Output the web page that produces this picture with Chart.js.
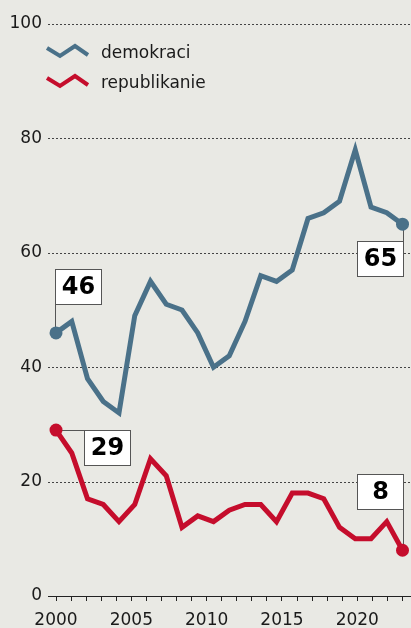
<!DOCTYPE html>
<html lang="pl">
<head>
<meta charset="utf-8">
<title>demokraci i republikanie</title>
<script src="https://cdn.jsdelivr.net/npm/chart.js@4.4.1/dist/chart.umd.min.js"></script>
<style>
  html, body { margin: 0; padding: 0; background: #e9e9e4; }
  #wykres { display: block; }
</style>
</head>
<body>
<canvas id="wykres" width="411" height="628"></canvas>
<script>
// kolejne pomiary, rozłożone równo na osi 2000-2023
const pomiary = ['1', '2', '3', '4', '5', '6', '7', '8', '9', '10', '11', '12',
                 '13', '14', '15', '16', '17', '18', '19', '20', '21', '22', '23'];
const demokraci = [46, 48, 38, 34, 32, 49, 55, 51, 50, 46, 40, 42, 48, 56, 55, 57, 66, 67, 69, 78, 68, 67, 65];
const republikanie = [29, 25, 17, 16, 13, 16, 24, 21, 12, 14, 13, 15, 16, 16, 13, 18, 18, 17, 12, 10, 10, 13, 8];

// oś lat i oś procentów
const rokOd = 2000;
const rokDo = 2023;
const podpisaneLata = [2000, 2005, 2010, 2015, 2020];
const skalaY = [0, 20, 40, 60, 80, 100];

const NIEBIESKI = '#4a7189';
const CZERWONY = '#c50d2c';
const FONT = '"DejaVu Sans", sans-serif';

// ramki z wartościami: która seria, pierwszy/ostatni punkt, przesunięcie ramki, kierunek linii
const ramki = [
    { seria: 0, punkt: 'pierwszy', dx: -1, dy: -64, linia: 'pion' },
    { seria: 0, punkt: 'ostatni', dx: -46, dy: 17, linia: 'pion' },
    { seria: 1, punkt: 'pierwszy', dx: 28, dy: 0, linia: 'poziom' },
    { seria: 1, punkt: 'ostatni', dx: -46, dy: -76, linia: 'pion' }
];

// siatka (kropkowane linie) + linia bazowa
const siatkaPlugin = {
    id: 'siatka',
    beforeDatasetsDraw(chart) {
        const ctx = chart.ctx;
        const y = chart.scales.y;
        ctx.save();
        skalaY.forEach(v => {
            const py = Math.round(y.getPixelForValue(v)) + 0.5;
            ctx.beginPath();
            if (v === 0) {
                ctx.setLineDash([]);
                ctx.strokeStyle = '#222';
                ctx.lineWidth = 1.2;
            } else {
                ctx.setLineDash([2, 2]);
                ctx.strokeStyle = '#444';
                ctx.lineWidth = 1;
            }
            ctx.moveTo(48, py);
            ctx.lineTo(chart.width, py);
            ctx.stroke();
        });
        ctx.restore();
    }
};

// ramki z liczbami i linie prowadzące
const ramkiPlugin = {
    id: 'ramki',
    beforeDatasetsDraw(chart) {
        const ctx = chart.ctx;
        const w = 46, h = 35;
        ctx.save();
        ramki.forEach(r => {
            const meta = chart.getDatasetMeta(r.seria);
            const dane = chart.data.datasets[r.seria].data;
            const i = r.punkt === 'pierwszy' ? 0 : dane.length - 1;
            const pt = meta.data[i];
            const px = pt.x, py = pt.y;
            const left = Math.round(px + r.dx) + 0.5;
            const top = Math.round(py + r.dy) + 0.5;
            const right = left + w, bottom = top + h;

            ctx.strokeStyle = '#555';
            ctx.lineWidth = 1;
            ctx.beginPath();
            if (r.linia === 'pion') {
                const lx = Math.abs(px - left) < Math.abs(px - right) ? left : right;
                const ly = py < top ? top : bottom;
                ctx.moveTo(lx, py);
                ctx.lineTo(lx, ly);
            } else {
                const ly = Math.abs(py - top) < Math.abs(py - bottom) ? top : bottom;
                const lx = px < left ? left : right;
                ctx.moveTo(px, ly);
                ctx.lineTo(lx, ly);
            }
            ctx.stroke();

            ctx.fillStyle = '#fff';
            ctx.fillRect(left, top, w, h);
            ctx.strokeRect(left, top, w, h);

            ctx.fillStyle = '#000';
            ctx.font = 'bold 24px ' + FONT;
            ctx.textAlign = 'center';
            ctx.textBaseline = 'middle';
            ctx.fillText(String(dane[i]), left + w / 2, top + h / 2 + 1);
        });
        ctx.restore();
    }
};

// legenda z zygzakiem
const legendaPlugin = {
    id: 'legenda',
    afterDraw(chart) {
        const ctx = chart.ctx;
        ctx.save();
        chart.data.datasets.forEach((ds, k) => {
            const c = 51 + k * 30;
            ctx.strokeStyle = ds.borderColor;
            ctx.lineWidth = 4;
            ctx.lineJoin = 'miter';
            ctx.beginPath();
            ctx.moveTo(47, c - 3);
            ctx.lineTo(60, c + 5);
            ctx.lineTo(75, c - 5);
            ctx.lineTo(88, c + 4);
            ctx.stroke();

            ctx.fillStyle = '#1a1a1a';
            ctx.font = '17px ' + FONT;
            ctx.textAlign = 'left';
            ctx.textBaseline = 'alphabetic';
            ctx.fillText(ds.label, 101, c + 7);
        });
        ctx.restore();
    }
};

function kropkiNaKoncach(ctx) {
    const n = ctx.dataset.data.length;
    return (ctx.dataIndex === 0 || ctx.dataIndex === n - 1) ? 6.5 : 0;
}

new Chart(document.getElementById('wykres'), {
    type: 'line',
    data: {
        labels: pomiary,
        datasets: [
            {
                label: 'demokraci',
                data: demokraci,
                borderColor: NIEBIESKI,
                backgroundColor: NIEBIESKI,
                borderWidth: 5,
                borderJoinStyle: 'miter',
                pointRadius: kropkiNaKoncach,
                pointBorderWidth: 0,
                tension: 0,
                clip: false
            },
            {
                label: 'republikanie',
                data: republikanie,
                borderColor: CZERWONY,
                backgroundColor: CZERWONY,
                borderWidth: 5,
                borderJoinStyle: 'miter',
                pointRadius: kropkiNaKoncach,
                pointBorderWidth: 0,
                tension: 0,
                clip: false
            }
        ]
    },
    options: {
        responsive: false,
        animation: false,
        devicePixelRatio: 1,
        layout: { padding: { left: 10, right: 8.5, top: 24, bottom: 0 } },
        plugins: {
            legend: { display: false },
            tooltip: { enabled: false }
        },
        scales: {
            x: {
                type: 'category',
                display: false,
                offset: false
            },
            lata: {
                type: 'linear',
                position: 'bottom',
                min: rokOd,
                max: rokDo,
                afterFit(s) { s.height = 32; },
                ticks: {
                    stepSize: 1,
                    autoSkip: false,
                    maxRotation: 0,
                    padding: 6,
                    color: '#1a1a1a',
                    font: { family: FONT, size: 17, lineHeight: 1.65 },
                    callback: v => podpisaneLata.includes(v) ? String(v) : ''
                },
                grid: {
                    drawOnChartArea: false,
                    drawTicks: true,
                    tickLength: 5,
                    color: '#222',
                    lineWidth: 1
                },
                border: { display: false }
            },
            y: {
                min: 0,
                max: 100,
                afterFit(s) { s.width = 46; },
                afterBuildTicks(s) { s.ticks = skalaY.map(v => ({ value: v })); },
                ticks: {
                    padding: 6,
                    color: '#1a1a1a',
                    font: { family: FONT, size: 17 }
                },
                grid: { display: false },
                border: { display: false }
            }
        }
    },
    plugins: [siatkaPlugin, ramkiPlugin, legendaPlugin]
});
</script>
</body>
</html>
